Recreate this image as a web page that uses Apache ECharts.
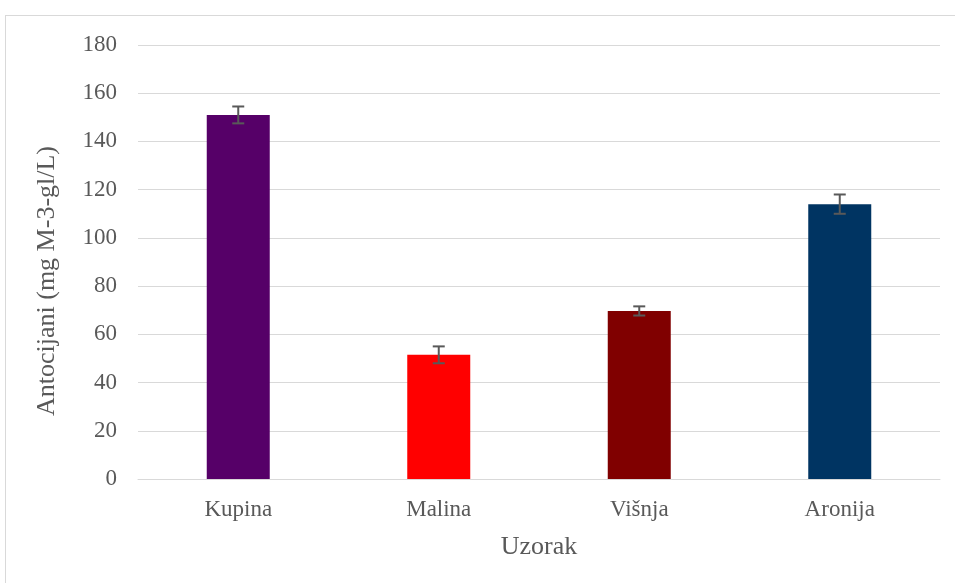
<!DOCTYPE html>
<html>
<head>
<meta charset="utf-8">
<script src="https://cdn.jsdelivr.net/npm/echarts@6/dist/echarts.min.js"></script>
<style>
  html, body { margin: 0; padding: 0; background: #fff; }
  #frame { position: absolute; left: 5px; top: 15px; width: 955px; height: 580px; border: 1px solid #d9d9d9; box-sizing: border-box; }
  #main { position: absolute; left: 0; top: 0; width: 955px; height: 583px; }
</style>
</head>
<body>
<div id="frame"></div>
<div id="main"></div>
<script>
// uzorci i vrijednosti
var categories = ['Kupina', 'Malina', 'Višnja', 'Aronija'];
var values = [151, 51.5, 69.7, 114];
var errors = [3.5, 3.5, 1.9, 4];
var colors = ['#560068', '#ff0000', '#800000', '#003462'];

var myChart = echarts.init(document.getElementById('main'));

var errData = values.map(function (v, i) {
    return [i, v - errors[i], v + errors[i]];
});

myChart.setOption({
    animation: false,
    grid: { left: 138, right: 15, top: 45, bottom: 104 },
    xAxis: {
        type: 'category',
        data: categories,
        name: 'Uzorak',
        nameLocation: 'middle',
        nameGap: 55,
        nameTextStyle: { fontFamily: 'Liberation Serif', fontSize: 26, color: '#595959' },
        axisLine: { lineStyle: { color: '#d9d9d9', width: 1 } },
        axisTick: { show: false },
        axisLabel: { fontFamily: 'Liberation Serif', fontSize: 23, color: '#595959', margin: 19 }
    },
    yAxis: {
        type: 'value',
        min: 0,
        max: 180,
        interval: 20,
        name: 'Antocijani (mg M-3-gl/L)',
        nameLocation: 'middle',
        nameGap: 78,
        nameTextStyle: { fontFamily: 'Liberation Serif', fontSize: 26, color: '#595959', padding: [0, 38, 0, 0] },
        axisLine: { show: false },
        axisTick: { show: false },
        axisLabel: { fontFamily: 'Liberation Serif', fontSize: 23, color: '#595959', margin: 21 },
        splitLine: { lineStyle: { color: '#d9d9d9', width: 1 } }
    },
    series: [{
        type: 'bar',
        barWidth: 63,
        data: values.map(function (v, i) {
            return { value: v, itemStyle: { color: colors[i] } };
        })
    }, {
        type: 'custom',
        data: errData,
        z: 10,
        renderItem: function (params, api) {
            var x = api.value(0);
            var lo = api.coord([x, api.value(1)]);
            var hi = api.coord([x, api.value(2)]);
            var hw = 6;
            var st = { stroke: '#595959', lineWidth: 2 };
            return {
                type: 'group',
                children: [
                    { type: 'line', shape: { x1: hi[0], y1: hi[1], x2: lo[0], y2: lo[1] }, style: st },
                    { type: 'line', shape: { x1: hi[0] - hw, y1: hi[1], x2: hi[0] + hw, y2: hi[1] }, style: st },
                    { type: 'line', shape: { x1: lo[0] - hw, y1: lo[1], x2: lo[0] + hw, y2: lo[1] }, style: st }
                ]
            };
        }
    }]
});
</script>
</body>
</html>
